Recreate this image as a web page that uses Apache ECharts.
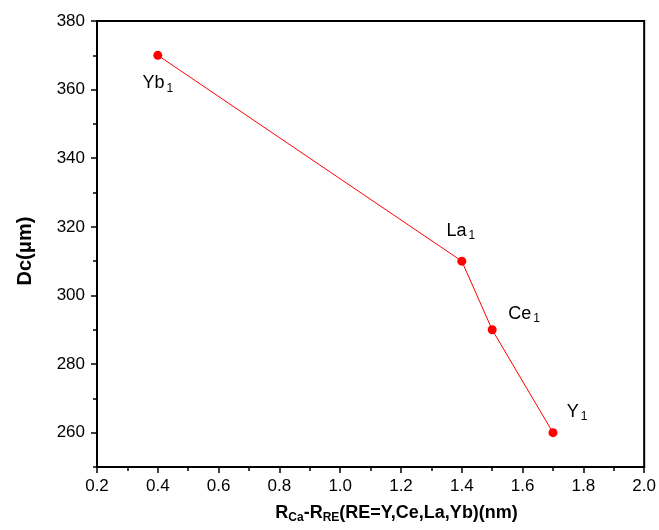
<!DOCTYPE html>
<html><head><meta charset="utf-8">
<script src="https://cdn.jsdelivr.net/npm/echarts@6/dist/echarts.min.js"></script>
<style>html,body{margin:0;padding:0;background:#fff}#c{width:659px;height:530px}</style>
</head><body><div id="c"></div>
<script>
// ---- data ----
const xValues = [0.4, 1.4, 1.5, 1.7];
const dcValues = [370, 310, 290, 260];
const pointNames = ['Yb', 'La', 'Ce', 'Y'];
const pointSubs = ['1', '1', '1', '1'];
const yTickValues = [260, 280, 300, 320, 340, 360, 380];
const yMinorTickValues = [250, 260, 270, 280, 290, 300, 310, 320, 330, 340, 350, 360, 370, 380];
const yAxisTitle = 'Dc(μm)';
// ---- styles ----
const labelOffsets = { Yb: [0, 28], La: [-1, -30], Ce: [32, -16], Y: [24, -21] };
const FONT = 'Liberation Sans, Arial, sans-serif';

const chart = echarts.init(document.getElementById('c'), null, { renderer: 'canvas' });
const axisLineStyle = { color: '#000', width: 2 };
const richLabel = {
  m: { fontFamily: FONT, fontSize: 18, color: '#000' },
  s: { fontFamily: FONT, fontSize: 12, color: '#000', verticalAlign: 'top', padding: [10, 0, 0, 2] }
};
chart.setOption({
  animation: false,
  backgroundColor: '#fff',
  grid: { left: 97, right: 14, top: 21, bottom: 63, show: true, borderColor: '#000', borderWidth: 2, containLabel: false },
  xAxis: {
    type: 'value', min: 0.2, max: 2.0, interval: 0.2,
    axisLine: { show: true, onZero: false, lineStyle: axisLineStyle },
    axisTick: { show: true, inside: false, length: 6, lineStyle: { color: '#000', width: 1.5 } },
    minorTick: { show: true, splitNumber: 2, length: 4, lineStyle: { color: '#000', width: 1.5 } },
    splitLine: { show: false },
    axisLabel: { color: '#000', fontFamily: FONT, fontSize: 17, margin: 11, formatter: v => v.toFixed(1) },
    name: '{m|R}{s|Ca}{m|-R}{s|RE}{m|(RE=Y,Ce,La,Yb)(nm)}',
    nameLocation: 'middle', nameGap: 35,
    nameTextStyle: {
      padding: [0, 0, 0, 52],
      rich: {
        m: { fontFamily: FONT, fontSize: 18, fontWeight: 'bold', color: '#000' },
        s: { fontFamily: FONT, fontSize: 12, fontWeight: 'bold', color: '#000', verticalAlign: 'top', padding: [10, 0, 0, 0] }
      }
    }
  },
  yAxis: [{
    type: 'value', min: 250, max: 380, interval: 10,
    axisLine: { show: true, onZero: false, lineStyle: axisLineStyle },
    axisTick: { show: true, inside: false, length: 6, customValues: yTickValues, lineStyle: { color: '#000', width: 1.5 } },
    splitLine: { show: false },
    axisLabel: { color: '#000', fontFamily: FONT, fontSize: 17, margin: 12, customValues: yTickValues },
    name: yAxisTitle, nameLocation: 'middle', nameGap: 62, nameRotate: 90,
    nameTextStyle: { fontFamily: FONT, fontSize: 20, fontWeight: 'bold', color: '#000', padding: [0, 14, 0, 0] }
  }, {
    type: 'value', min: 250, max: 380, interval: 10, position: 'left',
    axisLine: { show: false },
    axisTick: { show: true, inside: false, length: 4, customValues: yMinorTickValues, lineStyle: { color: '#000', width: 1.5 } },
    axisLabel: { show: false }, splitLine: { show: false }
  }],
  series: [{
    type: 'line', yAxisIndex: 0,
    symbol: 'circle', symbolSize: 9,
    itemStyle: { color: '#ff0000' },
    lineStyle: { color: '#ff0000', width: 1 },
    label: { show: true, position: 'inside', align: 'center', verticalAlign: 'middle', rich: richLabel },
    data: xValues.map((x, i) => ({
      value: [x, dcValues[i]],
      label: { offset: labelOffsets[pointNames[i]], formatter: '{m|' + pointNames[i] + '}{s|' + pointSubs[i] + '}' }
    }))
  }]
});
</script></body></html>
